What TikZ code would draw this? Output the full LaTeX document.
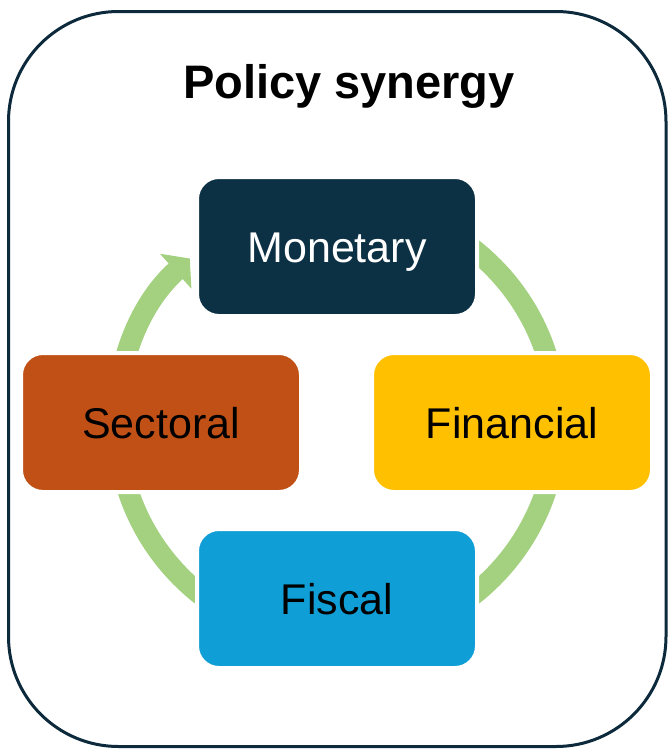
\documentclass[tikz,border=0pt]{standalone}
\usepackage{fontspec}
\setmainfont{Liberation Sans}
\usetikzlibrary{positioning,arrows.meta}
\definecolor{framecol}{HTML}{0C2A3C}
\definecolor{monetarycol}{HTML}{0C3044}
\definecolor{sectoralcol}{HTML}{C05015}
\definecolor{financialcol}{HTML}{FFC000}
\definecolor{fiscalcol}{HTML}{0F9ED5}
\definecolor{ringcol}{HTML}{A3D180}

\begin{document}
\begin{tikzpicture}[
    x=1pt,y=1pt,
    node distance=176pt,
    policy/.style={rounded corners=22pt,draw=white,line width=4pt,minimum width=280pt,minimum height=139pt,inner sep=0pt,text height=31pt,text depth=0pt,font=\fontsize{43}{50}\selectfont},
    ringarrow/.style={draw=ringcol,line width=21pt,-{Triangle[length=19pt,width=46pt]}}
    ]
        \useasboundingbox (0,0) rectangle (669,-750);
        \draw [framecol,line width=3pt,rounded corners=110pt] (8.5,-11.5) rectangle (666,-746.5);
        \node [font=\bfseries\fontsize{47}{55}\selectfont,anchor=base](title) at (349,-98) {Policy synergy};

        \coordinate (ring) at (337,-422);
        \draw [ringarrow] ([shift={(102:220pt)}]ring) arc [start angle=102,end angle=-228,radius=220pt];

        \node [policy,fill=monetarycol,text=white](mon) at (337,-246.5) {Monetary};
        \node [policy,fill=sectoralcol](sec) [below of=mon,xshift=-176pt] {Sectoral};
        \node [policy,fill=financialcol](fin) [below of=mon,xshift=175pt] {Financial};
        \node [policy,fill=fiscalcol](fis) [below of=sec,xshift=176pt] {Fiscal};
\end{tikzpicture}
\end{document}
